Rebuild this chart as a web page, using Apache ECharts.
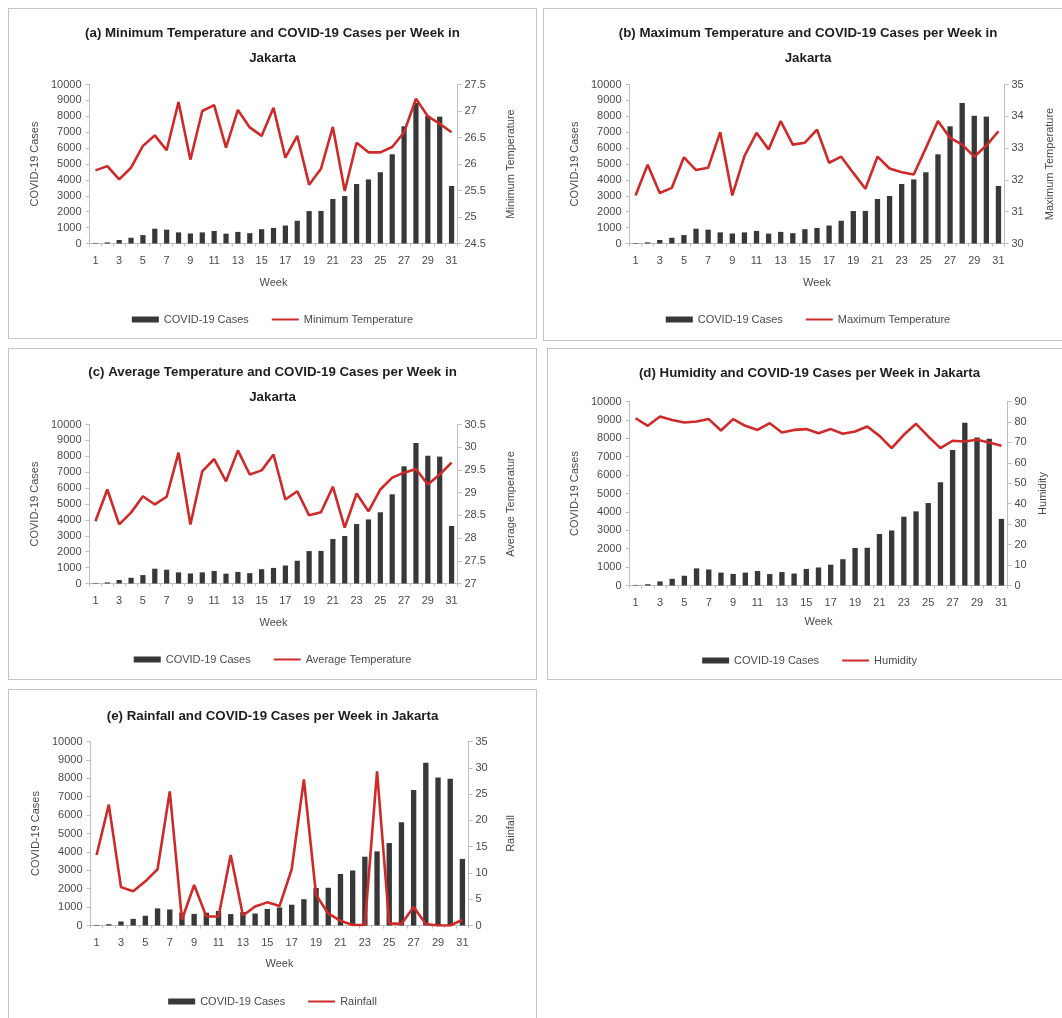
<!DOCTYPE html>
<html>
<head>
<meta charset="utf-8">
<script src="https://cdn.jsdelivr.net/npm/echarts@6/dist/echarts.min.js"></script>
<style>
  html, body { margin: 0; padding: 0; background: #ffffff; overflow: hidden; }
  body { width: 1062px; height: 1018px; position: relative; }
  .panel { position: absolute; box-sizing: border-box; border: 1.5px solid #c4c4c4; background: #fff; }
  .chart { position: absolute; left: 0; top: 0; right: 0; bottom: 0; }
</style>
</head>
<body>
<div class="panel" id="pa" style="left:8px;top:8px;width:529px;height:331px"><div class="chart" id="ca"></div></div>
<div class="panel" id="pb" style="left:543px;top:8px;width:530px;height:333px"><div class="chart" id="cb"></div></div>
<div class="panel" id="pc" style="left:8px;top:348px;width:529px;height:332px"><div class="chart" id="cc"></div></div>
<div class="panel" id="pd" style="left:547px;top:348px;width:525px;height:332px"><div class="chart" id="cd"></div></div>
<div class="panel" id="pe" style="left:8px;top:689px;width:529px;height:340px"><div class="chart" id="ce"></div></div>
<script>
// Weekly data, Jakarta
const weeks = ['1','2','3','4','5','6','7','8','9','10','11','12','13','14','15','16',
               '17','18','19','20','21','22','23','24','25','26','27','28','29','30','31'];

const covidCases = [30, 70, 220, 360, 530, 930, 870, 700, 630, 700, 790, 620, 730, 650, 900, 980,
                    1130, 1430, 2040, 2050, 2800, 2990, 3740, 4030, 4480, 5610, 7370, 8840, 8040, 7980, 3620];

const minTemp = [25.88, 25.96, 25.71, 25.93, 26.34, 26.54, 26.26, 27.17, 26.08, 27.0, 27.11, 26.31, 27.02, 26.69, 26.53, 27.06,
                 26.12, 26.53, 25.61, 25.91, 26.7, 25.49, 26.4, 26.22, 26.22, 26.32, 26.6, 27.23, 26.9, 26.76, 26.6];

const maxTemp = [31.51, 32.48, 31.59, 31.75, 32.71, 32.31, 32.38, 33.5, 31.51, 32.75, 33.48, 32.96, 33.85, 33.11, 33.17, 33.58,
                 32.54, 32.73, 32.22, 31.72, 32.73, 32.36, 32.24, 32.17, 33.0, 33.85, 33.32, 33.11, 32.73, 33.08, 33.53];

const avgTemp = [28.37, 29.07, 28.3, 28.56, 28.92, 28.74, 28.91, 29.88, 28.3, 29.47, 29.74, 29.25, 29.93, 29.4, 29.49, 29.84,
                 28.85, 29.03, 28.5, 28.57, 29.13, 28.23, 28.98, 28.59, 29.07, 29.33, 29.44, 29.52, 29.18, 29.4, 29.66];

const humidity = [81.8, 78.1, 82.7, 81.0, 79.7, 80.2, 81.4, 75.8, 81.4, 78.1, 76.1, 79.4, 74.8, 76.1, 76.5, 74.5,
                  76.5, 74.2, 75.3, 77.8, 73.2, 67.2, 73.7, 79.1, 72.9, 67.2, 70.8, 70.4, 71.3, 69.9, 68.3];

const rainfall = [13.4, 23.0, 7.3, 6.5, 8.4, 10.7, 25.5, 1.1, 7.7, 1.7, 1.7, 13.4, 1.9, 3.6, 4.4, 3.7,
                  10.7, 27.8, 5.8, 2.3, 0.9, 0.1, 0.1, 29.3, 0.4, 0.3, 3.5, 0.3, 0.0, 0.0, 1.1];

const FONT = '"Liberation Sans", Arial, sans-serif';
const BAR = '#383838';
const RED = '#cf2a2a';
const AXIS = '#bdbdbd';
const TXT = '#4a4a4a';

function buildChart(domId, cfg) {
  const chart = echarts.init(document.getElementById(domId), null, { renderer: 'canvas' });
  const labelStyle = { color: TXT, fontFamily: FONT, fontSize: 11, formatter: v => String(v) };
  const axisCommon = {
    axisLine: { show: true, lineStyle: { color: AXIS, width: 1 } },
    axisTick: { show: true, length: 4, lineStyle: { color: AXIS } },
    splitLine: { show: false },
    nameLocation: 'middle',
    nameRotate: 90,
    nameTextStyle: { color: TXT, fontFamily: FONT, fontSize: 11 }
  };
  chart.setOption({
    animation: false,
    textStyle: { fontFamily: FONT },
    title: {
      text: cfg.title,
      left: 'center',
      top: cfg.titleTop,
      textStyle: { fontFamily: FONT, fontSize: 13.3, fontWeight: 'bold', color: '#1e1e1e', lineHeight: 25 }
    },
    legend: {
      top: cfg.legendTop,
      left: 'center',
      itemGap: 22,
      itemWidth: 27,
      itemHeight: 6,
      textStyle: { color: TXT, fontFamily: FONT, fontSize: 11 },
      data: [
        { name: 'COVID-19 Cases', icon: 'rect' },
        { name: cfg.lineName, itemStyle: { opacity: 0 } }
      ]
    },
    grid: {
      left: cfg.grid[0], top: cfg.grid[1], width: cfg.grid[2], height: cfg.grid[3],
      containLabel: false
    },
    xAxis: {
      type: 'category',
      data: weeks,
      boundaryGap: true,
      name: 'Week',
      nameLocation: 'middle',
      nameGap: cfg.weekGap,
      nameTextStyle: { color: TXT, fontFamily: FONT, fontSize: 11 },
      axisLine: { show: true, lineStyle: { color: AXIS } },
      axisTick: { show: true, length: 3, interval: 0, lineStyle: { color: AXIS } },
      axisLabel: { interval: 1, color: TXT, fontFamily: FONT, fontSize: 11, margin: 12 }
    },
    yAxis: [
      Object.assign({}, axisCommon, {
        type: 'value', position: 'left',
        min: 0, max: 10000, interval: 1000,
        name: 'COVID-19 Cases', nameGap: cfg.leftGap,
        axisLabel: Object.assign({}, labelStyle, { margin: 8 })
      }),
      Object.assign({}, axisCommon, {
        type: 'value', position: 'right',
        min: cfg.rMin, max: cfg.rMax, interval: cfg.rStep,
        name: cfg.lineName, nameGap: cfg.rightGap,
        axisLabel: Object.assign({}, labelStyle, { margin: 7 })
      })
    ],
    series: [
      {
        name: 'COVID-19 Cases',
        type: 'bar',
        yAxisIndex: 0,
        data: covidCases,
        barWidth: '44%',
        itemStyle: { color: BAR }
      },
      {
        name: cfg.lineName,
        type: 'line',
        yAxisIndex: 1,
        data: cfg.values,
        symbol: 'none',
        lineStyle: { color: RED, width: 2.6 },
        itemStyle: { color: RED },
        z: 5
      }
    ]
  });
}

buildChart('ca', {
  title: '(a) Minimum Temperature and COVID-19 Cases per Week in\nJakarta',
  titleTop: 7, legendTop: 300, grid: [80.5, 75.5, 368, 159],
  weekGap: 34, leftGap: 40, rightGap: 48,
  lineName: 'Minimum Temperature', values: minTemp, rMin: 24.5, rMax: 27.5, rStep: 0.5
});

buildChart('cb', {
  title: '(b) Maximum Temperature and COVID-19 Cases per Week in\nJakarta',
  titleTop: 7, legendTop: 300, grid: [85.5, 75.5, 375, 159],
  weekGap: 34, leftGap: 48, rightGap: 40,
  lineName: 'Maximum Temperature', values: maxTemp, rMin: 30, rMax: 35, rStep: 1
});

buildChart('cc', {
  title: '(c) Average Temperature and COVID-19 Cases per Week in\nJakarta',
  titleTop: 6, legendTop: 300, grid: [80.5, 75.5, 368, 159],
  weekGap: 34, leftGap: 40, rightGap: 48,
  lineName: 'Average Temperature', values: avgTemp, rMin: 27, rMax: 30.5, rStep: 0.5
});

buildChart('cd', {
  title: '(d) Humidity and COVID-19 Cases per Week in Jakarta',
  titleTop: 7, legendTop: 301, grid: [81.5, 52.5, 378, 184],
  weekGap: 31, leftGap: 43, rightGap: 29,
  lineName: 'Humidity', values: humidity, rMin: 0, rMax: 90, rStep: 10
});

buildChart('ce', {
  title: '(e) Rainfall and COVID-19 Cases per Week in Jakarta',
  titleTop: 9, legendTop: 301, grid: [81.5, 51.5, 378, 184],
  weekGap: 33, leftGap: 40, rightGap: 37,
  lineName: 'Rainfall', values: rainfall, rMin: 0, rMax: 35, rStep: 5
});
</script>
</body>
</html>
